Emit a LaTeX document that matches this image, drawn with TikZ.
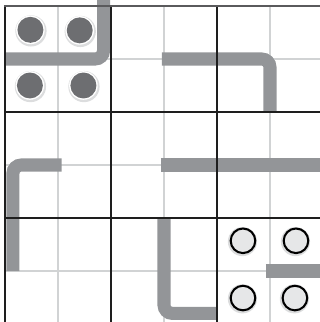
\documentclass[tikz,border=0pt]{standalone}
\usepackage{xcolor}
\usepackage{tikz}
\definecolor{gridLight}{HTML}{D1D3D4}
\definecolor{gridDark}{HTML}{1E1E1E}
\definecolor{gridTop}{HTML}{5A5A5C}
\definecolor{pipeGray}{HTML}{939598}
\definecolor{dotDark}{HTML}{6D6E71}
\definecolor{dotLight}{HTML}{E6E7E8}
\definecolor{shadowGray}{HTML}{DCDDDE}

\begin{document}
\begin{tikzpicture}[x=1cm, y=-1cm]

            \def\PipeWidth{7pt}
            \def\DotRadius{0.245}

            \newcommand{\Pipe}[1]{%
                \draw[pipeGray, line width=\PipeWidth, rounded corners=4.5pt] #1;
            }
            \newcommand{\DarkDot}[2]{%
                \fill[shadowGray] (#1+0.01,#2+0.02) circle (\DotRadius+0.05);
                \fill[white] (#1,#2) circle (\DotRadius+0.025);
                \fill[dotDark] (#1,#2) circle (\DotRadius);
            }
            \newcommand{\LightDot}[2]{%
                \fill[shadowGray] (#1-0.01,#2+0.015) circle (\DotRadius+0.03);
                \filldraw[fill=dotLight, draw=black, line width=1.1pt] (#1,#2) circle (0.232);
            }

            \useasboundingbox (-0.094,-0.113) rectangle (5.943,5.962);

            \foreach \k in {1,3,5}{
                \draw[gridLight, line width=0.9pt] (\k,0) -- (\k,6.2);
                \draw[gridLight, line width=0.9pt] (0,\k) -- (6.2,\k);
            }

            \Pipe{(0,1) -- (1.86,1) -- (1.86,-0.2)}
            \Pipe{(2.96,1) -- (5,1) -- (5,2)}
            \Pipe{(1.07,3) -- (0.15,3) -- (0.15,5)}
            \Pipe{(2.94,3) -- (6.2,3)}
            \Pipe{(3,4) -- (3,5.8) -- (4,5.8)}
            \Pipe{(4.92,5) -- (6.2,5)}

            \DarkDot{0.48}{0.45}
            \DarkDot{1.41}{0.46}
            \DarkDot{0.47}{1.5}
            \DarkDot{1.48}{1.5}

            \LightDot{4.49}{4.43}
            \LightDot{5.49}{4.43}
            \LightDot{4.49}{5.51}
            \LightDot{5.47}{5.51}

            \foreach \k in {0,2,4}{
                \draw[gridDark, line width=1.2pt] (\k,0) -- (\k,6.2);
            }
            \foreach \k in {2,4}{
                \draw[gridDark, line width=1.2pt] (0,\k) -- (6.2,\k);
            }
            \draw[gridTop, line width=1.2pt] (-0.02,0) -- (6.2,0);

        \end{tikzpicture}
\end{document}
